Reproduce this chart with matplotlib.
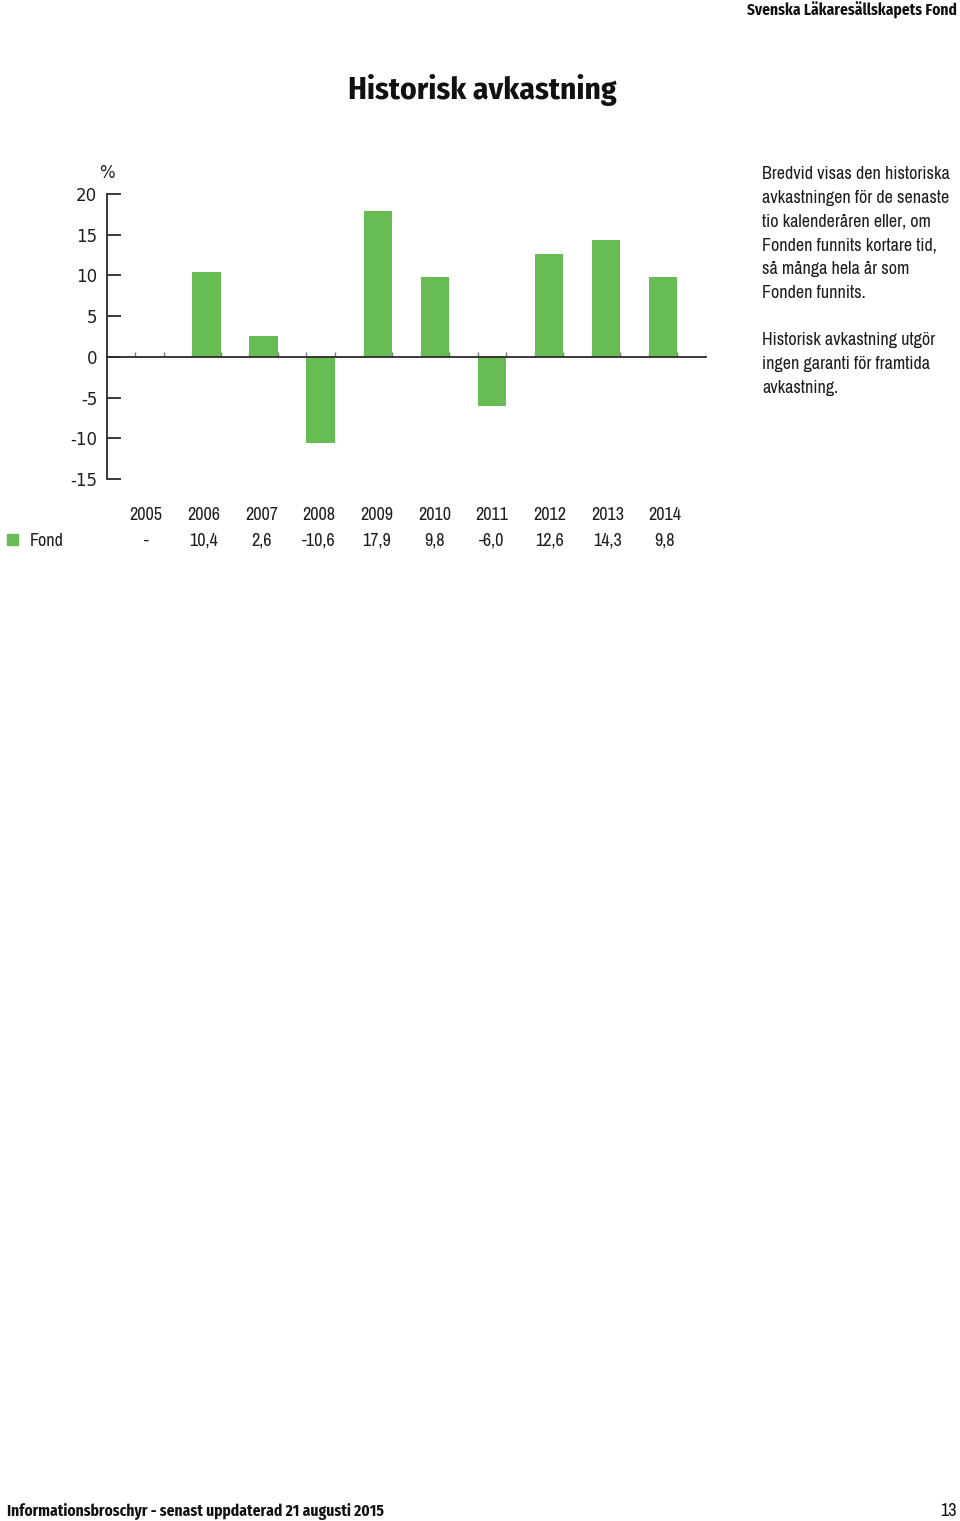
import matplotlib
matplotlib.use('Agg')
from matplotlib import pyplot as plt
from matplotlib import transforms

# Data
years = ['2005', '2006', '2007', '2008', '2009', '2010', '2011', '2012', '2013', '2014']
fond = [None, 10.4, 2.6, -10.6, 17.9, 9.8, -6.0, 12.6, 14.3, 9.8]
yticks = [-15, -10, -5, 0, 5, 10, 15, 20]

green = '#67bd53'
dark = '#2b2b2b'
txt = '#1e1e1e'
cond = ['Archivo Narrow', 'PT Sans Narrow', 'DejaVu Sans']
cond_bold = ['Fira Sans Condensed', 'Roboto Condensed', 'DejaVu Sans']

W, H = 960, 1521
fig = plt.figure(figsize=(W / 100, H / 100), dpi=100)

def fx(px):
    return px / W

def fy(py):
    return 1 - py / H

# Header / title / footer
fig.text(fx(957), fy(10), 'Svenska Läkaresällskapets Fond', ha='right', va='center',
         fontsize=11.1, fontweight='bold', family=cond_bold, color='#111111')
fig.text(fx(482), fy(90), 'Historisk avkastning', ha='center', va='center',
         fontsize=22.6, fontweight='bold', family=cond_bold, color='#111111')
fig.text(fx(7), fy(1511), 'Informationsbroschyr - senast uppdaterad 21 augusti 2015',
         ha='left', va='center', fontsize=11.1, fontweight='bold', family=cond_bold, color='#111111')
fig.text(fx(957), fy(1511), '13', ha='right', va='center', fontsize=13, family=cond, color='#111111')

# Side text
para1 = ['Bredvid visas den historiska', 'avkastningen för de senaste', 'tio kalenderåren eller, om',
         'Fonden funnits kortare tid,', 'så många hela år som', 'Fonden funnits.']
para2 = ['Historisk avkastning utgör', 'ingen garanti för framtida', 'avkastning.']
for i, line in enumerate(para1):
    fig.text(fx(762), fy(174 + i * 23.8), line, ha='left', va='center', fontsize=13,
             family=cond, color=txt)
for i, line in enumerate(para2):
    fig.text(fx(762), fy(340 + i * 23.8), line, ha='left', va='center', fontsize=13,
             family=cond, color=txt)

# Chart axes
ax = fig.add_axes([fx(107), fy(479), fx(706) - fx(107), fy(194) - fy(479)])
x = list(range(len(years)))
vals = [v if v is not None else 0 for v in fond]

# small marks at bar edges (hidden behind bars)
edges = []
for i in x:
    edges += [i - 0.25, i + 0.25]
edges.append(9.75)
ax.vlines(edges, 0, 0.6, color='#777777', lw=1, zorder=1)
ax.bar(x, vals, width=0.5, color=green, zorder=2)

ax.set_xlim(-0.744, 9.75)
ax.set_ylim(-15, 20)
ax.set_yticks(yticks)
ax.set_yticklabels([str(t) for t in yticks])
ax.tick_params(axis='y', direction='in', length=10, width=1.3, color=dark, pad=7,
               labelsize=12, labelcolor=txt)
ax.set_xticks([])
for s in ['top', 'right']:
    ax.spines[s].set_visible(False)
ax.spines['left'].set_color(dark)
ax.spines['left'].set_linewidth(1.3)
ax.spines['bottom'].set_position(('data', 0))
ax.spines['bottom'].set_color(dark)
ax.spines['bottom'].set_linewidth(1.3)
ax.set_facecolor('none')

fig.text(fx(107), fy(173), '%', ha='center', va='center', fontsize=12, color=txt)

# Table below chart
tr = transforms.blended_transform_factory(ax.transData, fig.transFigure)
for i, (yr, v) in enumerate(zip(years, fond)):
    lbl = '-' if v is None else f'{v:.1f}'.replace('.', ',')
    xp = i * 1.01 - 0.06
    fig.text(xp, fy(515), yr, transform=tr, ha='center', va='center', fontsize=13,
             family=cond, color=txt)
    fig.text(xp, fy(541), lbl, transform=tr, ha='center', va='center', fontsize=13,
             family=cond, color=txt)
fig.patches.append(plt.Rectangle((fx(7), fy(545)), fx(11), 11 / H, color=green,
                                 transform=fig.transFigure, figure=fig))
fig.text(fx(30), fy(541), 'Fond', ha='left', va='center', fontsize=13, family=cond,
         color=txt)

fig.savefig('out.png', dpi=100, facecolor='white')
